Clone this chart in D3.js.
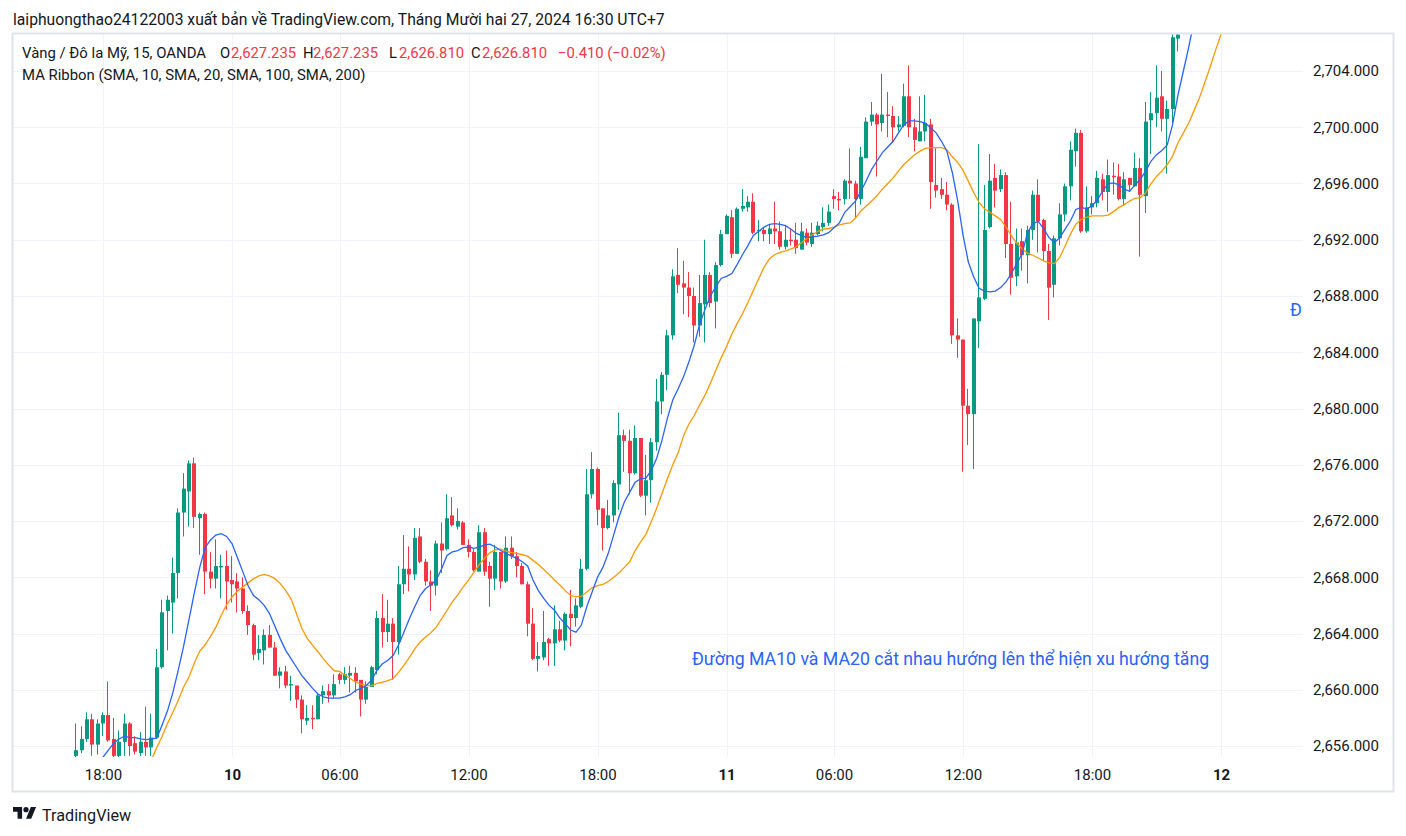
<!DOCTYPE html>
<html>
<head>
<meta charset="utf-8">
<script src="https://cdn.jsdelivr.net/npm/d3@7"></script>
<style>
  body { margin: 0; background: #ffffff; }
  svg text { font-family: Roboto, "Noto Sans", sans-serif; }
</style>
</head>
<body>
<svg id="chart" width="1406" height="836"></svg>
<script>
// candle index of the first bar (0 = 18:00 on the 9th, 15 min bars)
var firstBar = -5;

var opens = [
  2655.3, 2655.7, 2656.5, 2657.9, 2656.1, 2657.6, 2658.2, 2656.5, 2655.3, 2656.3,
  2657.6, 2656.2, 2655.5, 2656.3, 2655.9, 2656.6, 2661.6, 2665.6, 2666.2, 2668.3,
  2672.6, 2674.1, 2676.1, 2672.2, 2672.5, 2668.4, 2667.9, 2668.7, 2668.8, 2667.8,
  2667.7, 2667.2, 2665.6, 2664.6, 2662.6, 2662.8, 2663.9, 2663.0, 2661.0, 2661.3,
  2660.3, 2660.3, 2659.3, 2657.8, 2658.0, 2657.9, 2659.6, 2659.9, 2659.6, 2661.1,
  2660.7, 2661.0, 2661.2, 2660.7, 2659.3, 2660.2, 2661.4, 2665.1, 2664.1, 2664.7,
  2663.4, 2667.5, 2668.6, 2668.2, 2670.9, 2669.1, 2667.7, 2667.4, 2670.4, 2670.0,
  2672.4, 2671.6, 2671.9, 2670.3, 2669.8, 2668.4, 2671.2, 2668.8, 2667.9, 2669.8,
  2667.7, 2670.1, 2669.5, 2668.8, 2667.5, 2664.7, 2662.2, 2662.3, 2663.6, 2663.3,
  2664.3, 2663.5, 2665.4, 2665.1, 2665.9, 2668.6, 2673.9, 2675.7, 2672.9, 2671.5,
  2672.4, 2674.6, 2678.1, 2677.7, 2675.4, 2677.9, 2673.8, 2674.9, 2677.6, 2680.5,
  2682.4, 2685.2, 2689.5, 2688.9, 2688.6, 2688.0, 2685.9, 2687.4, 2689.5, 2687.6,
  2690.2, 2692.4, 2693.6, 2691.0, 2694.2, 2694.3, 2694.7, 2692.6, 2692.7, 2692.4,
  2692.8, 2692.6, 2691.5, 2692.0, 2692.0, 2691.3, 2692.5, 2691.7, 2692.4, 2692.9,
  2693.2, 2695.1, 2694.9, 2694.9, 2696.2, 2696.0, 2694.9, 2697.8, 2700.4, 2700.9,
  2700.3, 2700.9, 2700.8, 2700.0, 2700.1, 2702.2, 2700.0, 2699.0, 2699.7, 2700.2,
  2695.9, 2695.6, 2695.2, 2694.5, 2685.2, 2684.9, 2680.2, 2679.6, 2686.2, 2687.8,
  2692.9, 2696.4, 2695.6, 2696.6, 2691.7, 2689.4, 2691.9, 2690.9, 2692.7, 2695.2,
  2693.4, 2691.2, 2688.8, 2692.1, 2693.8, 2695.8, 2698.3, 2699.6, 2692.6, 2694.3,
  2694.6, 2696.3, 2695.4, 2696.55, 2696.5, 2694.9, 2696.4, 2695.8, 2697.1, 2695.1,
  2700.5, 2701.0, 2702.2, 2700.6, 2701.3, 2706.3
];
var highs = [
  2657.6, 2657.4, 2658.4, 2658.3, 2657.9, 2658.4, 2660.6, 2658.0, 2657.1, 2658.3,
  2657.7, 2656.7, 2657.0, 2658.8, 2658.3, 2662.9, 2666.4, 2666.7, 2669.4, 2672.9,
  2675.4, 2676.3, 2676.5, 2672.6, 2672.6, 2669.8, 2670.7, 2669.6, 2669.9, 2669.5,
  2668.3, 2668.0, 2666.0, 2664.7, 2663.9, 2664.3, 2664.6, 2663.4, 2661.6, 2661.7,
  2661.0, 2660.3, 2659.6, 2658.9, 2658.9, 2659.7, 2660.3, 2660.4, 2661.1, 2661.2,
  2661.6, 2661.7, 2661.6, 2660.7, 2660.6, 2661.7, 2665.6, 2666.8, 2666.4, 2665.1,
  2668.8, 2671.0, 2670.2, 2671.5, 2671.5, 2669.3, 2668.5, 2670.6, 2671.9, 2673.9,
  2673.7, 2672.9, 2672.0, 2670.7, 2670.0, 2671.7, 2671.5, 2669.1, 2670.3, 2669.8,
  2670.9, 2670.9, 2669.8, 2669.0, 2667.7, 2665.8, 2663.4, 2665.6, 2663.7, 2666.0,
  2664.9, 2665.5, 2667.1, 2666.5, 2669.3, 2675.7, 2676.9, 2675.8, 2672.9, 2673.5,
  2674.9, 2679.7, 2678.5, 2678.5, 2678.8, 2677.9, 2676.7, 2677.9, 2682.1, 2682.6,
  2685.6, 2689.9, 2691.4, 2690.5, 2689.7, 2688.6, 2689.5, 2692.0, 2689.7, 2690.4,
  2692.7, 2693.8, 2694.1, 2694.3, 2695.6, 2695.1, 2695.3, 2693.4, 2692.9, 2693.1,
  2694.7, 2693.3, 2693.0, 2692.8, 2693.2, 2693.2, 2692.8, 2693.2, 2693.3, 2694.3,
  2694.5, 2695.6, 2695.4, 2696.3, 2698.5, 2696.2, 2698.6, 2700.7, 2701.8, 2701.0,
  2703.8, 2702.5, 2701.5, 2700.8, 2703.1, 2704.4, 2700.6, 2702.2, 2702.3, 2700.6,
  2698.5, 2696.4, 2696.1, 2694.6, 2686.4, 2684.9, 2681.4, 2686.4, 2698.8, 2695.9,
  2698.1, 2697.4, 2697.0, 2696.8, 2694.7, 2692.8, 2692.8, 2693.0, 2695.5, 2696.3,
  2693.5, 2691.7, 2692.3, 2694.6, 2696.0, 2699.0, 2699.9, 2699.8, 2695.8, 2695.1,
  2696.9, 2696.7, 2697.7, 2697.5, 2697.4, 2696.8, 2696.4, 2698.2, 2697.8, 2701.8,
  2702.5, 2704.4, 2704.0, 2701.9, 2706.7, 2706.7
];
var lows = [
  2655.0, 2655.5, 2656.3, 2655.3, 2655.4, 2656.7, 2656.3, 2655.2, 2655.2, 2655.3,
  2655.3, 2655.4, 2655.3, 2655.3, 2655.3, 2656.5, 2661.5, 2662.8, 2664.0, 2666.5,
  2670.9, 2671.6, 2671.5, 2669.6, 2666.8, 2667.2, 2667.2, 2666.5, 2665.7, 2666.2,
  2665.5, 2665.4, 2663.9, 2662.1, 2662.1, 2661.8, 2663.0, 2661.0, 2660.1, 2660.1,
  2659.2, 2658.7, 2656.9, 2657.5, 2657.2, 2657.9, 2659.0, 2659.1, 2659.4, 2660.4,
  2660.4, 2659.8, 2659.8, 2658.1, 2659.0, 2660.2, 2661.1, 2663.0, 2663.4, 2660.7,
  2662.5, 2666.8, 2667.0, 2667.8, 2669.0, 2667.4, 2665.6, 2666.7, 2668.3, 2669.9,
  2671.6, 2671.4, 2670.3, 2669.4, 2668.4, 2668.4, 2668.1, 2665.9, 2667.1, 2667.2,
  2667.6, 2669.3, 2668.0, 2667.5, 2663.8, 2662.1, 2661.3, 2662.1, 2661.7, 2661.7,
  2663.4, 2662.8, 2663.1, 2664.5, 2665.8, 2668.5, 2673.6, 2671.7, 2669.9, 2671.4,
  2671.9, 2672.8, 2675.5, 2673.9, 2675.3, 2673.7, 2672.4, 2673.3, 2677.0, 2679.6,
  2681.3, 2684.9, 2688.2, 2686.7, 2686.5, 2684.7, 2685.1, 2684.7, 2687.2, 2685.7,
  2690.1, 2692.4, 2690.7, 2691.0, 2694.0, 2694.0, 2692.4, 2691.9, 2691.9, 2691.7,
  2691.7, 2691.3, 2691.3, 2691.6, 2691.0, 2691.3, 2691.6, 2691.5, 2692.3, 2692.6,
  2693.0, 2694.2, 2694.1, 2694.5, 2694.9, 2693.6, 2694.5, 2697.8, 2700.1, 2696.5,
  2699.7, 2699.3, 2698.9, 2699.7, 2700.0, 2699.3, 2698.3, 2699.0, 2699.0, 2694.2,
  2695.0, 2694.9, 2694.1, 2684.6, 2683.6, 2675.5, 2677.4, 2675.7, 2684.3, 2687.7,
  2692.8, 2694.3, 2695.4, 2690.7, 2688.1, 2688.7, 2689.8, 2688.9, 2692.0, 2691.1,
  2690.5, 2686.3, 2687.9, 2691.6, 2693.3, 2694.8, 2697.2, 2692.5, 2692.5, 2693.8,
  2694.3, 2694.8, 2694.0, 2695.2, 2694.8, 2694.4, 2695.4, 2695.8, 2690.8, 2693.9,
  2698.1, 2700.0, 2699.7, 2696.7, 2700.3, 2705.4
];
var closes = [
  2655.7, 2656.5, 2657.9, 2656.1, 2657.6, 2658.2, 2656.4, 2655.3, 2656.3, 2657.6,
  2656.0, 2655.6, 2656.3, 2655.9, 2656.6, 2661.6, 2665.5, 2666.4, 2668.3, 2672.6,
  2674.3, 2676.1, 2672.3, 2672.5, 2668.4, 2667.9, 2668.8, 2668.8, 2667.7, 2667.5,
  2667.2, 2665.6, 2664.6, 2662.5, 2662.9, 2663.9, 2663.0, 2661.0, 2661.3, 2660.3,
  2660.4, 2659.3, 2657.9, 2658.0, 2657.9, 2659.6, 2659.9, 2659.6, 2660.4, 2660.7,
  2661.1, 2661.2, 2660.6, 2659.3, 2660.2, 2661.6, 2665.1, 2664.1, 2664.7, 2663.4,
  2667.5, 2668.6, 2668.2, 2670.8, 2669.1, 2667.7, 2667.4, 2670.4, 2669.9, 2672.2,
  2671.7, 2672.0, 2670.3, 2669.8, 2668.5, 2671.2, 2668.4, 2667.9, 2669.8, 2667.7,
  2670.1, 2669.5, 2668.8, 2667.5, 2664.7, 2662.2, 2662.4, 2663.4, 2663.3, 2664.3,
  2663.5, 2665.4, 2665.1, 2666.0, 2668.6, 2673.9, 2675.7, 2672.8, 2671.5, 2672.4,
  2674.7, 2678.1, 2677.7, 2675.4, 2677.9, 2673.8, 2674.9, 2677.6, 2680.5, 2682.4,
  2685.2, 2689.4, 2688.8, 2688.6, 2688.0, 2685.9, 2687.5, 2689.5, 2687.5, 2690.2,
  2692.4, 2693.7, 2691.0, 2694.2, 2694.4, 2694.7, 2692.5, 2692.7, 2692.4, 2692.8,
  2692.6, 2691.5, 2692.0, 2691.9, 2691.4, 2692.6, 2691.8, 2692.5, 2693.0, 2693.2,
  2694.0, 2694.9, 2694.8, 2696.2, 2696.0, 2694.9, 2697.9, 2700.4, 2700.9, 2700.2,
  2700.9, 2700.8, 2700.0, 2700.2, 2702.2, 2700.0, 2699.1, 2699.7, 2700.3, 2696.1,
  2695.5, 2695.2, 2694.5, 2685.2, 2684.9, 2680.2, 2679.6, 2686.4, 2687.9, 2692.7,
  2696.2, 2695.5, 2696.6, 2691.7, 2689.3, 2691.8, 2690.9, 2692.7, 2695.2, 2693.3,
  2691.2, 2688.6, 2692.1, 2693.8, 2695.8, 2698.4, 2699.6, 2692.6, 2694.3, 2694.6,
  2696.4, 2695.4, 2696.6, 2696.45, 2694.9, 2696.3, 2695.9, 2697.1, 2695.2, 2700.4,
  2701.0, 2702.1, 2700.6, 2701.3, 2706.4, 2706.6
];

// MA Ribbon lines (SMA 10 from bar 0, SMA 20 from bar 9)
var ma10First = 0;
var ma10 = [
  2655.2, 2655.7, 2656.2, 2656.5, 2656.7, 2656.6, 2656.6, 2656.5, 2656.45, 2656.5,
  2656.55, 2657.5, 2658.5, 2659.8, 2661.4, 2663.1, 2665.0, 2666.9, 2668.7, 2670.1,
  2670.65, 2671.0, 2671.1, 2670.9, 2670.4, 2669.4, 2668.4, 2667.4, 2666.7, 2666.4,
  2666.0, 2665.4, 2664.5, 2663.6, 2662.8, 2662.2, 2661.6, 2661.0, 2660.55, 2660.1,
  2659.7, 2659.5, 2659.4, 2659.4, 2659.4, 2659.5, 2659.65, 2659.95, 2660.1, 2660.3,
  2660.7, 2661.4, 2661.85, 2662.1, 2662.45, 2663.2, 2664.1, 2665.05, 2665.9, 2666.7,
  2667.2, 2667.45, 2667.8, 2668.6, 2669.55, 2669.8, 2669.9, 2670.1, 2670.15, 2670.05,
  2670.15, 2670.3, 2670.35, 2670.15, 2669.9, 2669.7, 2669.5, 2669.35, 2669.1, 2668.8,
  2667.8, 2667.05, 2666.5, 2666.0, 2665.65, 2665.1, 2664.7, 2664.25, 2664.1, 2664.6,
  2665.9, 2666.95, 2668.0, 2668.7, 2669.7, 2671.0, 2672.3, 2673.35, 2674.05, 2674.75,
  2675.0, 2675.05, 2675.6, 2676.45, 2677.75, 2679.3, 2680.6, 2681.4, 2682.25, 2683.3,
  2684.5, 2686.0, 2687.05, 2688.0, 2688.65, 2689.25, 2689.4, 2689.6, 2690.25, 2690.95,
  2691.6, 2692.3, 2692.6, 2692.9, 2693.1, 2693.15, 2693.1, 2693.0, 2692.75, 2692.45,
  2692.3, 2692.15, 2692.2, 2692.25, 2692.35, 2692.5, 2692.85, 2693.2, 2693.95, 2694.35,
  2694.75, 2695.45, 2696.2, 2697.0, 2697.6, 2698.2, 2698.6, 2699.0, 2699.6, 2700.2,
  2700.45, 2700.45, 2700.4, 2700.3, 2699.95, 2699.6, 2699.0, 2698.3, 2696.8, 2694.8,
  2692.35, 2690.4, 2689.35, 2688.55, 2688.35, 2688.3, 2688.35, 2688.6, 2689.0, 2689.6,
  2690.3, 2691.0, 2692.5, 2693.15, 2693.3, 2692.8, 2692.15, 2691.8, 2692.15, 2692.75,
  2693.35, 2694.15, 2694.3, 2694.2, 2694.4, 2694.85, 2695.45, 2696.0, 2696.05, 2695.9,
  2695.6, 2695.45, 2695.9, 2696.3, 2696.9, 2697.6, 2698.05, 2698.35, 2698.75, 2700.2,
  2702.3, 2704.0, 2705.7, 2707.6
];
var ma20First = 9;
var ma20 = [
  2655.0, 2655.9, 2656.7, 2657.6, 2658.4, 2659.25, 2660.2, 2660.9, 2661.9, 2662.75,
  2663.2, 2663.8, 2664.45, 2665.3, 2666.05, 2666.6, 2667.0, 2667.3, 2667.6, 2667.9,
  2668.1, 2668.2, 2668.1, 2667.9, 2667.55, 2667.05, 2666.45, 2665.4, 2664.35, 2663.65,
  2663.15, 2662.7, 2662.2, 2661.75, 2661.35, 2661.3, 2661.05, 2660.8, 2660.55, 2660.4,
  2660.3, 2660.3, 2660.45, 2660.55, 2660.65, 2660.8, 2661.25, 2661.75, 2662.3, 2662.9,
  2663.4, 2663.75, 2664.05, 2664.45, 2665.05, 2665.65, 2666.25, 2666.75, 2667.3, 2667.8,
  2668.35, 2668.9, 2669.35, 2669.75, 2669.95, 2670.0, 2669.85, 2669.75, 2669.7, 2669.6,
  2669.5, 2669.2, 2668.9, 2668.55, 2668.2, 2667.8, 2667.45, 2667.05, 2666.7, 2666.6,
  2666.65, 2666.95, 2667.25, 2667.4, 2667.5, 2667.7, 2668.0, 2668.3, 2668.7, 2669.1,
  2669.9, 2670.5, 2671.05, 2671.95, 2672.9, 2673.95, 2675.0, 2676.0, 2676.85, 2678.05,
  2678.9, 2679.5, 2680.25, 2680.95, 2681.8, 2682.7, 2683.6, 2684.4, 2685.3, 2686.05,
  2686.75, 2687.55, 2688.4, 2689.25, 2690.05, 2690.65, 2690.95, 2691.1, 2691.2, 2691.35,
  2691.5, 2691.8, 2692.1, 2692.35, 2692.6, 2692.75, 2692.8, 2692.9, 2693.05, 2693.15,
  2693.2, 2693.55, 2694.05, 2694.4, 2694.75, 2695.15, 2695.6, 2696.0, 2696.4, 2696.9,
  2697.35, 2697.7, 2698.05, 2698.3, 2698.5, 2698.55, 2698.55, 2698.55, 2698.4, 2697.9,
  2697.5, 2696.95, 2696.15, 2695.35, 2694.65, 2694.2, 2693.95, 2693.7, 2693.45, 2692.9,
  2692.3, 2691.75, 2691.35, 2691.05, 2690.9, 2690.7, 2690.5, 2690.35, 2690.3, 2690.75,
  2691.55, 2692.4, 2693.1, 2693.45, 2693.6, 2693.7, 2693.7, 2693.7, 2693.75, 2694.0,
  2694.3, 2694.5, 2694.75, 2694.95, 2695.0, 2695.35, 2696.0, 2696.5, 2696.9, 2697.35,
  2697.95, 2698.9, 2699.6, 2700.3, 2701.2, 2702.1, 2703.2, 2704.3, 2705.5, 2706.6,
  2707.7
];

// time axis ticks (bar index) and labels
var timeTicks = [0, 24, 44, 68, 92, 116, 136, 160, 184, 208];
var timeLabels = ["18:00", "10", "06:00", "12:00", "18:00", "11", "06:00", "12:00", "18:00", "12"];
var dayLabels = ["10", "11", "12"];

// price axis ticks
var priceTicks = [2656, 2660, 2664, 2668, 2672, 2676, 2680, 2684, 2688, 2692, 2696, 2700, 2704];

// header texts
var titleText = "laiphuongthao24122003 xuất bản về TradingView.com, Tháng Mười hai 27, 2024 16:30 UTC+7";
var symbolText = "Vàng / Đô la Mỹ, 15, OANDA";
var ohlcKeys = ["O", "H", "L", "C"];
var ohlcVals = ["2,627.235", "2,627.235", "2,626.810", "2,626.810"];
var changeText = "\u22120.410 (\u22120.02%)";
var ribbonText = "MA Ribbon (SMA, 10, SMA, 20, SMA, 100, SMA, 200)";
var noteText = "Đường MA10 và MA20 cắt nhau hướng lên thể hiện xu hướng tăng";

var upColor = "#089981", downColor = "#f23645";
var textColor = "#131722", gridColor = "#f0f3fa";

// plot box
var plot = {left: 13, right: 1303, top: 33, bottom: 757};

var svg = d3.select("#chart");
svg.append("rect").attr("width", 1406).attr("height", 836).attr("fill", "#ffffff");

// scales: bar index -> x, price -> y
var x = d3.scaleLinear().domain([0, 208]).range([103, 1221]);
var y = d3.scaleLinear().domain([2656, 2704]).range([746, 71]);

svg.append("defs").append("clipPath").attr("id", "plotclip")
    .append("rect")
    .attr("x", plot.left).attr("y", plot.top)
    .attr("width", plot.right - plot.left)
    .attr("height", plot.bottom - plot.top);

// grid
var grid = svg.append("g");
grid.selectAll("line.h").data(priceTicks).enter().append("line")
    .attr("x1", plot.left).attr("x2", plot.right)
    .attr("y1", function(d) { return Math.round(y(d)) + 0.5; })
    .attr("y2", function(d) { return Math.round(y(d)) + 0.5; })
    .attr("stroke", gridColor).attr("stroke-width", 1);
grid.selectAll("line.v").data(timeTicks).enter().append("line")
    .attr("x1", function(d) { return Math.round(x(d)) + 0.5; })
    .attr("x2", function(d) { return Math.round(x(d)) + 0.5; })
    .attr("y1", plot.top).attr("y2", plot.bottom)
    .attr("stroke", gridColor).attr("stroke-width", 1);

// candles
var bars = opens.map(function(o, k) {
    return {i: k + firstBar, o: o, h: highs[k], l: lows[k], c: closes[k]};
});

var g = svg.append("g").attr("clip-path", "url(#plotclip)");

g.selectAll("line.wick").data(bars).enter().append("line")
    .attr("x1", function(d) { return Math.round(x(d.i)) - 0.5; })
    .attr("x2", function(d) { return Math.round(x(d.i)) - 0.5; })
    .attr("y1", function(d) { return y(d.h); })
    .attr("y2", function(d) { return y(d.l); })
    .attr("stroke", function(d) { return d.c >= d.o ? upColor : downColor; })
    .attr("stroke-width", 1);

g.selectAll("rect.body").data(bars).enter().append("rect")
    .attr("x", function(d) { return Math.round(x(d.i)) - 2; })
    .attr("width", 4)
    .attr("y", function(d) { return y(Math.max(d.o, d.c)); })
    .attr("height", function(d) { return Math.max(1, Math.abs(y(d.o) - y(d.c))); })
    .attr("fill", function(d) { return d.c >= d.o ? upColor : downColor; });

// MA lines
var maLine = d3.line()
    .x(function(d) { return x(d[0]); })
    .y(function(d) { return y(d[1]); });

g.append("path")
    .datum(ma20.map(function(v, k) { return [k + ma20First, v]; }))
    .attr("fill", "none").attr("stroke", "#ff9800").attr("stroke-width", 1.3)
    .attr("d", maLine);

g.append("path")
    .datum(ma10.map(function(v, k) { return [k + ma10First, v]; }))
    .attr("fill", "none").attr("stroke", "#2962ff").attr("stroke-width", 1.3)
    .attr("d", maLine);

// drawing texts on the chart
g.append("text")
    .attr("x", 692).attr("y", 665)
    .attr("font-size", 17.7).attr("fill", "#2962ff")
    .text(noteText);
// second drawing text, only its first letter shows before the price scale
g.append("text")
    .attr("x", 1290).attr("y", 316)
    .attr("font-size", 17.7).attr("fill", "#2962ff")
    .text("Đ");

// price axis
var yAxis = svg.append("g")
    .attr("transform", "translate(" + plot.right + ",0)")
    .call(d3.axisRight(y).tickValues(priceTicks).tickSize(0).tickPadding(10)
        .tickFormat(d3.format(",.3f")));
yAxis.select(".domain").remove();
yAxis.selectAll("text")
    .attr("font-family", "Roboto, sans-serif")
    .attr("font-size", 15).attr("fill", textColor);

// time axis
var xAxis = svg.append("g")
    .attr("transform", "translate(0," + plot.bottom + ")")
    .call(d3.axisBottom(x).tickValues(timeTicks).tickSize(0).tickPadding(12)
        .tickFormat(function(d, k) { return timeLabels[k]; }));
xAxis.select(".domain").remove();
xAxis.selectAll("text")
    .attr("font-family", "Roboto, sans-serif")
    .attr("font-size", 15).attr("fill", textColor)
    .attr("font-weight", function(d, k) { return dayLabels.indexOf(timeLabels[k]) >= 0 ? "bold" : "normal"; });

// outer frame
svg.append("rect")
    .attr("x", 12.5).attr("y", 33.5)
    .attr("width", 1381).attr("height", 758)
    .attr("fill", "none").attr("stroke", "#e0e3eb").attr("stroke-width", 2);

// header
svg.append("text")
    .attr("x", 13).attr("y", 25)
    .attr("font-size", 15.7).attr("fill", textColor)
    .text(titleText);

svg.append("text")
    .attr("x", 22).attr("y", 58)
    .attr("font-size", 14.9).attr("fill", textColor)
    .text(symbolText);

var keyX = [220, 303, 389, 471];
var valX = [231, 313, 399, 482];
ohlcKeys.forEach(function(k, n) {
    svg.append("text").attr("x", keyX[n]).attr("y", 58)
        .attr("font-size", 14.8).attr("fill", textColor).text(k);
    svg.append("text").attr("x", valX[n]).attr("y", 58)
        .attr("font-size", 14.8).attr("fill", downColor).text(ohlcVals[n]);
});
svg.append("text").attr("x", 558).attr("y", 58)
    .attr("font-size", 14.8).attr("fill", downColor).text(changeText);

svg.append("text")
    .attr("x", 22).attr("y", 80)
    .attr("font-size", 14.9).attr("fill", textColor)
    .text(ribbonText);

// TradingView logo
var logo = svg.append("g").attr("transform", "translate(13,804.5) scale(0.65)").attr("fill", textColor);
logo.append("path").attr("d", "M14 22H7V11H0V4h14v18z");
logo.append("path").attr("d", "M28 22h-8l7.5-18h8L28 22z");
logo.append("circle").attr("cx", 20).attr("cy", 8).attr("r", 4);
svg.append("text")
    .attr("x", 42).attr("y", 821)
    .attr("font-size", 16.2).attr("fill", textColor)
    .text("TradingView");
</script>
</body>
</html>
